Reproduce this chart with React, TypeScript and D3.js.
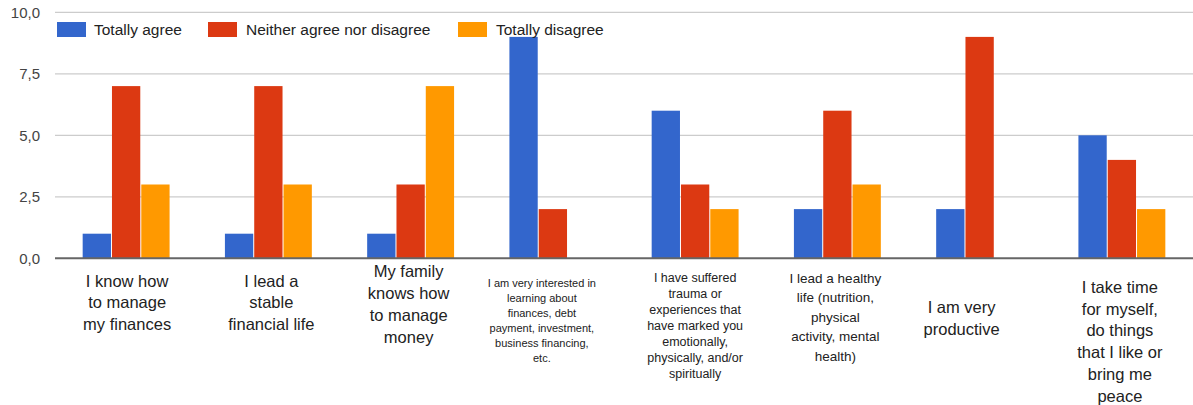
import React from "react";
import * as d3 from "d3";

// Survey statements (each entry is the wrapped label, one string per line)
const categoryLines: string[][] = [
  ["I know how", "to manage", "my finances"],
  ["I lead a", "stable", "financial life"],
  ["My family", "knows how", "to manage", "money"],
  ["I am very interested in", "learning about", "finances, debt", "payment, investment,", "business financing,", "etc."],
  ["I have suffered", "trauma or", "experiences that", "have marked you", "emotionally,", "physically, and/or", "spiritually"],
  ["I lead a healthy", "life (nutrition,", "physical", "activity, mental", "health)"],
  ["I am very", "productive"],
  ["I take time", "for myself,", "do things", "that I like or", "bring me", "peace"],
];
const categories = categoryLines.map((l) => l.join(" "));

const seriesNames = ["Totally agree", "Neither agree nor disagree", "Totally disagree"];
const totallyAgree = [1, 1, 1, 9, 6, 2, 2, 5];
const neitherAgree = [7, 7, 3, 2, 3, 6, 9, 4];
const totallyDisagree = [3, 3, 7, 0, 2, 3, 0, 2];
const seriesValues = [totallyAgree, neitherAgree, totallyDisagree];

const yTicks = [0, 2.5, 5, 7.5, 10];

// Presentation
const colors = ["#3366cc", "#dc3912", "#ff9900"];
const W = 1193;
const H = 405;
const plotLeft = 55;
const plotRight = 1193;
const plotTop = 12.3;
const plotBottom = 258.3;
const FONT = "Arial, 'Liberation Sans', sans-serif";

// Per-label typography for the wrapped category labels
const labelFontSize = [16.5, 16.5, 16.5, 11, 12.5, 13.5, 16.5, 16.5];
const labelLineGap = [21.7, 21.7, 22, 15, 16, 19.5, 22, 21.8];
const labelFirstLine = [281, 281, 271, 283, 278, 278, 307, 287];
const labelShift = [1, 3, -2, -11, 0, -2, -18, -2];

const legendItems = [
  { swatchX: 57, textX: 94 },
  { swatchX: 208, textX: 246 },
  { swatchX: 458, textX: 496 },
];

export default function App() {
  const x = d3
    .scaleBand<string>()
    .domain(categories)
    .range([plotLeft, plotRight])
    .paddingInner(0.382)
    .paddingOuter(0.191);
  const xs = d3
    .scaleBand<number>()
    .domain(seriesNames.map((_, i) => i))
    .range([0, x.bandwidth()]);
  const y = d3.scaleLinear().domain([0, 10]).range([plotBottom, plotTop]);
  const fmt = (v: number) => d3.format(".1f")(v).replace(".", ",");

  return (
    <svg
      width={W}
      height={H}
      style={{ position: "absolute", left: 0, top: 0, display: "block", background: "#fff" }}
      fontFamily={FONT}
    >
      {/* gridlines */}
      {yTicks
        .filter((t) => t !== 0)
        .map((t) => (
          <line key={t} x1={plotLeft} x2={plotRight} y1={y(t)} y2={y(t)} stroke="#cccccc" strokeWidth={1.2} />
        ))}

      {/* y tick labels */}
      {yTicks.map((t) => (
        <text key={t} x={40} y={y(t)} dy="0.35em" textAnchor="end" fontSize={15} fill="#444">
          {fmt(t)}
        </text>
      ))}

      {/* bars */}
      {categories.map((c, ci) =>
        seriesValues.map((vals, si) => {
          const v = vals[ci];
          if (!v) return null;
          const bx = (x(c) ?? 0) + (xs(si) ?? 0);
          return (
            <rect
              key={`${ci}-${si}`}
              x={bx + 0.5}
              y={y(v)}
              width={xs.bandwidth() - 1}
              height={y(0) - y(v)}
              fill={colors[si]}
            />
          );
        })
      )}

      {/* baseline */}
      <line x1={plotLeft} x2={plotRight} y1={y(0)} y2={y(0)} stroke="#666" strokeWidth={2} />

      {/* category labels */}
      {categoryLines.map((lines, ci) => {
        const cx = (x(categories[ci]) ?? 0) + x.bandwidth() / 2 + labelShift[ci];
        return (
          <text key={ci} textAnchor="middle" fontSize={labelFontSize[ci]} fill="#222">
            {lines.map((ln, li) => (
              <tspan key={li} x={cx} y={labelFirstLine[ci] + li * labelLineGap[ci]} dy="0.35em">
                {ln}
              </tspan>
            ))}
          </text>
        );
      })}

      {/* legend */}
      {seriesNames.map((name, i) => (
        <g key={name}>
          <rect x={legendItems[i].swatchX} y={22} width={29} height={15} fill={colors[i]} />
          <text x={legendItems[i].textX} y={29.5} dy="0.35em" fontSize={15.5} fill="#222">
            {name}
          </text>
        </g>
      ))}
    </svg>
  );
}
